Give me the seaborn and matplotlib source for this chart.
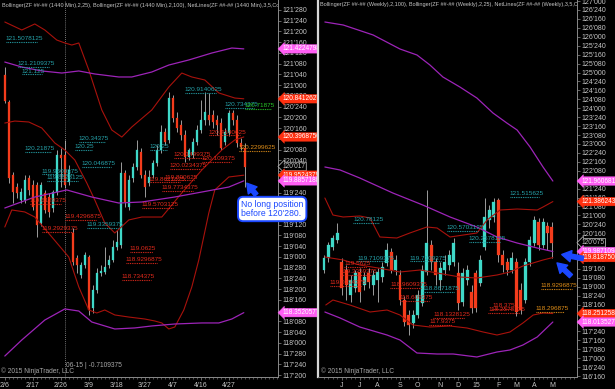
import numpy as np
import pandas as pd
import matplotlib
matplotlib.use("Agg")
import matplotlib.pyplot as plt
from matplotlib.patches import FancyArrowPatch
from matplotlib.ticker import FixedLocator, FuncFormatter
import seaborn as sns

# ---------------- data: daily (1440 Min) ----------------
daily_tick_pos = [0, 7, 14, 21, 28, 35, 42, 49, 56]
daily_tick_labels = ["2/6", "2/17", "2/26", "3/9", "3/18", "3/27", "4/7", "4/16", "4/27"]

d_open = [121.118, 120.804, 119.954, 119.814, 119.663, 119.663, 119.919, 119.838, 119.838, 119.396,
          119.745, 119.698, 119.570, 119.756, 120.187, 120.187, 119.873, 119.279, 118.988, 118.790,
          118.907, 118.999, 118.406, 118.616, 118.814, 118.826, 118.907, 118.965, 119.116, 119.140,
          119.977, 119.582, 119.919, 120.047, 120.222, 119.954, 119.861, 119.954, 120.094, 120.245,
          120.455, 120.362, 120.850, 120.618, 120.536, 120.420, 120.164, 120.187, 120.338, 120.478,
          120.594, 120.653, 120.653, 120.594, 120.559, 120.338, 120.443, 120.676, 120.594, 120.327,
          120.268]
d_high = [121.211, 120.827, 119.989, 119.861, 119.803, 119.954, 119.954, 119.896, 119.873, 119.873,
          119.780, 119.745, 119.780, 120.245, 120.268, 120.362, 120.071, 119.337, 119.023, 118.941,
          119.058, 119.023, 118.674, 118.872, 118.907, 119.116, 119.023, 119.198, 119.314, 120.105,
          120.012, 119.954, 120.094, 120.362, 120.268, 120.012, 120.012, 120.129, 120.303, 120.536,
          120.501, 120.920, 120.885, 120.687, 120.594, 120.478, 120.268, 120.385, 120.536, 120.827,
          120.920, 120.909, 120.711, 120.653, 120.618, 120.501, 120.711, 120.711, 120.653, 120.385,
          120.327]
d_low = [120.792, 119.861, 119.628, 119.686, 119.628, 119.628, 119.721, 119.547, 119.233, 119.361,
         119.512, 119.465, 119.524, 119.721, 119.814, 119.803, 119.838, 118.907, 118.814, 118.755,
         118.872, 118.325, 118.348, 118.581, 118.779, 118.802, 118.872, 118.941, 119.081, 119.105,
         119.582, 119.547, 119.873, 120.012, 119.919, 119.698, 119.826, 119.919, 120.059, 120.210,
         120.303, 120.327, 120.571, 120.455, 120.362, 120.105, 120.129, 120.152, 120.303, 120.443,
         120.536, 120.536, 120.501, 120.420, 120.245, 120.303, 120.408, 120.536, 120.280, 120.245,
         119.814]
d_close = [120.815, 119.919, 119.756, 119.745, 119.756, 119.896, 119.780, 119.582, 119.372, 119.838,
           119.547, 119.524, 119.756, 120.187, 120.152, 119.838, 120.012, 118.941, 118.907, 118.907,
           119.023, 118.383, 118.616, 118.814, 118.837, 118.883, 118.965, 119.116, 119.174, 119.977,
           119.640, 119.896, 120.047, 120.245, 119.954, 119.814, 119.931, 120.094, 120.245, 120.455,
           120.338, 120.850, 120.618, 120.501, 120.420, 120.164, 120.245, 120.338, 120.478, 120.594,
           120.687, 120.594, 120.571, 120.536, 120.268, 120.455, 120.676, 120.594, 120.327, 120.280,
           120.053]

# Bollinger (2,25) – daily
d_bb25_up_x = [0, 4.25, 7.5, 10, 13, 15, 16.75, 18.5, 21, 24.25, 26.75, 29.25, 31.75, 36.75, 41, 44.25, 46.75, 50, 53.5, 57.5, 59.75]
d_bb25_up = [121.735, 121.642, 121.712, 121.642, 121.525, 121.491, 121.467, 121.491, 121.176, 120.711, 120.478,
             120.396, 120.513, 120.711, 120.978, 121.141, 121.095, 121.060, 120.909, 120.850, 120.841]
d_bb25_mid_x = [0, 2.5, 6, 9.25, 12.5, 15, 17.5, 20.5, 22.5, 25, 27.5, 31, 34.25, 39.25, 44.25, 49.25, 54.25, 57.5, 59.75]
d_bb25_mid = [120.559, 120.582, 120.571, 120.501, 120.327, 120.245, 120.129, 119.861, 119.663, 119.396, 119.279,
              119.431, 119.465, 119.465, 119.745, 120.012, 120.245, 120.362, 120.397]
d_bb25_lo_x = [0, 1.75, 5, 7.5, 11.75, 16, 18.5, 21, 23, 25, 27.5, 31, 35, 37.5, 39.25, 41, 42.5, 44.75, 46.75,
               48.5, 51, 52.5, 56, 59.75]
d_bb25_lo = [119.349, 119.547, 119.524, 119.465, 119.233, 118.999, 118.651, 118.383, 118.348, 118.383, 118.325,
             118.301, 118.278, 118.255, 118.232, 118.162, 118.185, 118.383, 118.651, 118.965, 119.512, 119.780,
             119.931, 119.952]
# Bollinger (2,100) – daily
d_bb100_up_x = [0, 4.25, 9.25, 14.25, 18.5, 22.5, 28.5, 31.75, 36.75, 41, 46, 51.75, 56.75, 59.75]
d_bb100_up = [121.269, 121.211, 121.165, 121.141, 121.165, 121.130, 121.095, 121.095, 121.153, 121.234, 121.293,
              121.374, 121.432, 121.422]
d_bb100_mid_x = [0, 7.5, 15.5, 21.75, 28.5, 34.25, 42.5, 49.25, 56, 59.75]
d_bb100_mid = [119.570, 119.698, 119.780, 119.698, 119.628, 119.640, 119.698, 119.756, 119.814, 119.886]
d_bb100_lo_x = [0, 4.25, 10, 15, 18.5, 21.75, 27.5, 32.5, 36.75, 42.5, 49.25, 53.5, 56.75, 59.75]
d_bb100_lo = [117.847, 118.034, 118.266, 118.395, 118.371, 118.243, 118.162, 118.174, 118.197, 118.220, 118.232,
              118.232, 118.278, 118.352]

# NetLines labels – daily
d_net_val = [121.5078125, 121.2109375, 121.125, 120.9140625, 120.734375, 120.71875, 120.34375, 120.25,
             120.21875, 120.046875, 120.25, 119.9609375, 119.8828125, 120.4140625, 120.2299625, 120.1499375,
             120.0234375, 120.109375, 119.890625, 119.8671875, 119.7734375, 119.5703125, 119.6129375,
             119.4296875, 119.3359375, 119.2929375, 119.0625, 118.9296875, 118.734375]
d_net_x = [0.25, 3.25, 4.25, 45, 55, 60, 18.5, 17.5, 5, 19.25, 36.25, 9.25, 10.5, 51, 58.5, 42.25, 41.25,
           49.25, 40, 36, 39.25, 34.25, 6.25, 15, 20.5, 9.25, 31.25, 30.25, 29.25]
d_net_kind = ["c", "c", "c", "c", "c", "g", "c", "c", "c", "c", "c", "c", "c", "r", "o", "r", "r", "r", "r",
              "r", "r", "r", "r", "r", "c", "r", "r", "r", "r"]

# price markers – daily
d_tag_val = [121.4224798, 120.8412627, 120.3968750, 119.9524379, 119.8857188, 118.3520577]
d_tag_kind = ["m", "r", "r", "r", "m", "m"]

# ---------------- data: weekly ----------------
weekly_tick_pos = [4, 8, 12, 17, 21, 26, 30, 34, 39, 43, 47, 51]
weekly_tick_labels = ["J", "J", "A", "S", "O", "N", "D", "15", "F", "M", "A", "M"]

w_open = [119.470, 119.806, 120.114, 120.310, 119.694, 119.470, 118.770, 118.966, 119.414, 119.050,
          119.386, 119.050, 119.190, 119.274, 119.666, 119.974, 119.470, 119.330, 118.630, 118.210,
          117.986, 118.210, 118.546, 119.414, 120.170, 119.694, 119.190, 119.470, 119.610, 119.694,
          119.386, 118.574, 119.190, 118.854, 119.386, 119.106, 120.114, 120.870, 120.954, 121.430,
          119.890, 119.694, 119.470, 119.694, 118.910, 118.630, 119.694, 120.226, 120.814, 120.170,
          120.702, 120.674]
w_high = [119.890, 120.254, 120.450, 120.786, 119.806, 119.610, 119.330, 119.470, 119.526, 119.414,
          119.526, 119.470, 119.526, 119.694, 120.226, 120.086, 119.890, 119.470, 118.742, 118.350,
          118.350, 118.910, 119.610, 121.710, 120.310, 119.806, 119.694, 119.890, 120.030, 120.366,
          119.694, 119.526, 119.610, 119.050, 119.470, 119.890, 121.486, 121.290, 121.486, 121.486,
          120.030, 119.806, 119.974, 119.806, 119.106, 119.806, 120.422, 120.982, 120.926, 120.926,
          120.814, 120.814]
w_low = [119.386, 119.694, 120.030, 120.226, 118.770, 118.630, 118.574, 118.854, 118.574, 118.910,
         118.966, 118.770, 118.574, 119.134, 119.582, 119.386, 119.330, 118.490, 117.902, 117.650,
         117.846, 118.126, 118.462, 119.330, 119.470, 119.050, 118.910, 119.330, 119.470, 119.582,
         118.350, 118.462, 119.050, 118.266, 118.294, 119.022, 120.030, 120.646, 120.814, 119.694,
         119.414, 119.330, 119.386, 118.182, 118.238, 118.546, 119.582, 120.142, 120.030, 120.086,
         120.030, 119.806]
w_close = [119.806, 120.170, 120.366, 120.506, 118.966, 119.050, 119.190, 119.386, 118.854, 119.274,
           119.134, 119.330, 119.414, 119.554, 120.030, 119.470, 119.750, 118.630, 118.014, 117.930,
           118.210, 118.770, 119.470, 120.226, 119.694, 119.330, 119.526, 119.694, 119.890, 120.226,
           118.546, 119.386, 119.470, 118.406, 118.406, 119.750, 120.954, 121.150, 121.374, 119.890,
           119.610, 119.470, 119.806, 118.294, 118.350, 119.694, 120.310, 120.870, 120.170, 120.814,
           120.506, 120.234]

# Bollinger (2,100) – weekly
w_bb100_up_x = [0.2, 4.3, 11, 17, 20.8, 23.7, 26.6, 30.4, 34.2, 37.8, 40.9, 43.2, 46.1, 49, 51.2]
w_bb100_up = [126.414, 126.33, 126.05, 125.658, 125.49, 125.21, 124.874, 124.594, 124.286, 123.866, 123.586,
              123.39, 122.914, 122.354, 121.961]
w_bb100_mid_x = [0.2, 3.6, 8, 15.4, 22.1, 28.2, 34.2, 38.7, 43.2, 47.7, 51.2]
w_bb100_mid = [122.354, 122.27, 122.046, 121.626, 121.29, 120.954, 120.674, 120.394, 120.226, 120.086, 119.987]
w_bb100_lo_x = [0.2, 3.6, 8, 14.1, 17, 20.8, 25.3, 28.9, 34.2, 38.7, 41.6, 44.5, 47.7, 51.2]
w_bb100_lo = [118.294, 118.126, 117.874, 117.65, 117.51, 117.146, 117.118, 117.118, 117.034, 117.174, 117.23,
              117.37, 117.594, 118.014]
# Bollinger (2,25) – weekly
w_bb25_up_x = [0.2, 2, 4.3, 8, 10.3, 12.5, 16.3, 19.2, 23, 25.3, 28.2, 34.2, 36.5, 39.4, 43.2, 47.7, 49, 51.2]
w_bb25_up = [121.486, 121.01, 120.954, 120.982, 120.926, 120.394, 120.366, 120.506, 120.674, 120.646, 120.394,
             120.506, 120.87, 121.15, 121.178, 121.15, 121.234, 121.386]
w_bb25_mid_x = [0.2, 4.3, 8, 12.1, 17, 21.5, 26.6, 30.4, 34.2, 38.7, 41.6, 44.5, 49, 51.2]
w_bb25_mid = [119.834, 119.75, 119.61, 119.526, 119.414, 119.47, 119.358, 119.274, 119.246, 119.33, 119.414,
              119.582, 119.75, 119.819]
w_bb25_lo_x = [0.4, 2, 5.8, 10.3, 14.1, 17, 19.9, 23.7, 28.2, 32, 35.6, 38.7, 41.6, 44.5, 46.8, 49, 51.2]
w_bb25_lo = [118.49, 118.63, 118.49, 118.294, 118.35, 118.21, 117.93, 117.874, 117.902, 117.846, 117.734,
             117.65, 117.734, 117.986, 118.21, 118.266, 118.251]

# NetLines labels – weekly
w_net_val = [120.78125, 120.5703125, 120.2578125, 121.515625, 119.7109375, 119.7109375, 118.8671875, 119.5625,
             119.3359375, 119.0234375, 118.9609375, 118.609375, 118.1328125, 117.9375, 118.375, 118.2578125,
             118.9296875, 118.296875]
w_net_x = [6.5, 27.5, 32.4, 41.6, 7.4, 19.2, 22.1, 4.5, 3.8, 1.3, 14.8, 17, 24.4, 23.5, 37.6, 36.7, 48.5, 47.4]
w_net_kind = ["c", "c", "c", "c", "c", "c", "c", "r", "r", "r", "r", "r", "r", "r", "r", "r", "o", "o"]

# price markers – weekly
w_tag_val = [121.9606815, 121.3862439, 119.9871094, 119.8187500, 118.2512580, 118.0135273]
w_tag_kind = ["m", "r", "m", "r", "r", "m"]

title_daily = ("Bollinger(ZF ##-## (1440 Min),2,25), Bollinger(ZF ##-## (1440 Min),2,100), "
               "NetLines(ZF ##-## (1440 Min),3,5,Color)")
title_weekly = ("Bollinger(ZF ##-## (Weekly),2,100), Bollinger(ZF ##-## (Weekly),2,25), "
                "NetLines(ZF ##-## (Weekly),3,5,Color)")
note_text = "No long position\nbefore 120'280."
cursor_text = "06-15 | -0.7109375"
copyright_text = "\u00a9 2015 NinjaTrader, LLC"

# ---------------- style ----------------
CYAN = "#3fd8c8"
RED = "#f43c1c"
WICK = "#b5b5b5"
BB_RED = "#a8120c"
BB_PURPLE = "#9d24b8"
LAB = {"c": "#26a2aa", "r": "#e42a1c", "o": "#e08e18", "g": "#27c627"}
TAG = {"m": "#ff5ef4", "r": "#ff3010"}
AXC = "#8a8a8a"
TXT = "#c4c4c4"
BLUE = "#1b48ff"

sns.set_theme(style="dark", rc={"axes.facecolor": "black", "figure.facecolor": "black",
                                "savefig.facecolor": "black", "axes.grid": False})
plt.rcParams["font.family"] = ["Liberation Sans Narrow", "Liberation Sans", "DejaVu Sans"]
NARROW = ["Liberation Sans Narrow", "Liberation Sans", "DejaVu Sans"]

W, H = 615, 389
fig = plt.figure(figsize=(W / 100, H / 100), dpi=100)
axL = fig.add_axes([0, 12 / H, 278 / W, 377 / H])
axR = fig.add_axes([318 / W, 12 / H, 259 / W, 377 / H])


def fmt32(v, pos=None):
    whole = int(np.floor(v + 1e-9))
    tenths = int(round((v - whole) * 320))
    if tenths >= 320:
        whole += 1
        tenths -= 320
    return f"{whole}'{tenths:03d}"


def candles(ax, o, h, l, c, width):
    df = pd.DataFrame({"o": o, "h": h, "l": l, "c": c})
    df["x"] = np.arange(len(df))
    up = df["c"] >= df["o"]
    cols = np.where(up, CYAN, RED)
    ax.vlines(df["x"], df["l"], df["h"], color=WICK, lw=0.6, zorder=3)
    ax.bar(df["x"], (df["c"] - df["o"]).abs() + 0.004, bottom=np.minimum(df["o"], df["c"]) - 0.002,
           width=width, color=cols, edgecolor=cols, lw=0.2, zorder=4)


def band(ax, xs, ys, color, lw):
    sns.lineplot(x=xs, y=ys, ax=ax, color=color, lw=lw, sort=False, estimator=None, zorder=5, legend=False)


def netlabels(ax, xs, vals, kinds, unit):
    for x, v, k in zip(xs, vals, kinds):
        txt = str(v)
        col = LAB[k]
        w = len(txt) * unit
        ax.plot([x, x + w], [v, v], ls=(0, (0.8, 0.8)), lw=0.8, color=col, zorder=6)
        ax.annotate(txt, (x, v), xytext=(0, 0.6), textcoords="offset points", color=col,
                    fontsize=4.6, family=NARROW, va="bottom", ha="left", zorder=7)


def tags(ax, vals, kinds, last):
    for v, k in zip(vals, kinds):
        ax.annotate(f"{v:.7f}", xy=(1, v), xycoords=("axes fraction", "data"), xytext=(3.2, 0),
                    textcoords="offset points", va="center", ha="left", fontsize=4.7, family=NARROW,
                    color="white", zorder=9, annotation_clip=False,
                    bbox=dict(boxstyle="larrow,pad=0.12", fc=TAG[k], ec=TAG[k], lw=0.3))
    ax.annotate(fmt32(last), xy=(1, last), xycoords=("axes fraction", "data"), xytext=(3.2, 0),
                textcoords="offset points", va="center", ha="left", fontsize=4.8, family=NARROW,
                color=TXT, zorder=8, annotation_clip=False,
                bbox=dict(boxstyle="larrow,pad=0.12", fc="black", ec="#cfcfcf", lw=0.5))


def style_axes(ax, ylim, xlim, ystep, ticks, labels, left_spine=None):
    ax.set_facecolor("black")
    ax.set_xlim(*xlim)
    ax.set_ylim(*ylim)
    yt = np.arange(np.ceil(ylim[0] / ystep) * ystep, ylim[1], ystep)
    ax.yaxis.set_major_locator(FixedLocator(yt))
    ax.yaxis.set_major_formatter(FuncFormatter(fmt32))
    ax.yaxis.tick_right()
    ax.set_xticks(ticks)
    ax.set_xticklabels(labels)
    ax.xaxis.set_minor_locator(FixedLocator(np.arange(0, int(xlim[1]) + 1)))
    ax.tick_params(axis="y", which="both", left=False, right=True, labelleft=False, labelright=True,
                   length=2.2, width=0.5, color=AXC, labelsize=5, labelcolor=TXT, pad=1.2)
    ax.tick_params(axis="x", which="major", bottom=True, length=2.5, width=0.5, color=AXC,
                   labelsize=5, labelcolor=TXT, pad=1.2)
    ax.tick_params(axis="x", which="minor", bottom=True, length=1.6, width=0.4, color=AXC)
    for s in ["top", "left"]:
        ax.spines[s].set_visible(False)
    for s in ["right", "bottom"]:
        ax.spines[s].set_visible(True)
        ax.spines[s].set_color(AXC)
        ax.spines[s].set_linewidth(0.7)
    if left_spine:
        ax.spines["left"].set_visible(True)
        ax.spines["left"].set_color(left_spine)
        ax.spines["left"].set_linewidth(1.6)
    ax.set_xlabel("")
    ax.set_ylabel("")
    ax.grid(False)


# ---------------- left: daily ----------------
candles(axL, d_open, d_high, d_low, d_close, 0.62)
band(axL, d_bb25_up_x, d_bb25_up, BB_RED, 0.8)
band(axL, d_bb25_mid_x, d_bb25_mid, BB_RED, 0.8)
band(axL, d_bb25_lo_x, d_bb25_lo, BB_RED, 0.8)
band(axL, d_bb100_up_x, d_bb100_up, BB_PURPLE, 0.9)
band(axL, d_bb100_mid_x, d_bb100_mid, BB_PURPLE, 0.9)
band(axL, d_bb100_lo_x, d_bb100_lo, BB_PURPLE, 0.9)
axL.axvline(15, color="#9a9a9a", ls=(0, (1, 1.5)), lw=0.6, zorder=2)
netlabels(axL, d_net_x, d_net_val, d_net_kind, 0.72)
style_axes(axL, (117.603, 121.991), (-1.2, 68.3), 0.125, daily_tick_pos, daily_tick_labels)
tags(axL, d_tag_val, d_tag_kind, d_close[-1])
axL.text(0.006, 0.993, title_daily, transform=axL.transAxes, va="top", ha="left", fontsize=3.95,
         color=TXT, clip_on=True, family=NARROW)
axL.text(0.003, 0.004, copyright_text, transform=axL.transAxes, va="bottom", ha="left", fontsize=4.8,
         color="#a8a8a8", family=NARROW)
axL.text(15.4, 0.03, cursor_text, transform=axL.get_xaxis_transform(), va="center", ha="left",
         fontsize=4.8, color="#a8a8a8", family=NARROW)

# ---------------- right: weekly ----------------
candles(axR, w_open, w_high, w_low, w_close, 0.66)
band(axR, w_bb100_up_x, w_bb100_up, BB_PURPLE, 0.9)
band(axR, w_bb100_mid_x, w_bb100_mid, BB_PURPLE, 0.9)
band(axR, w_bb100_lo_x, w_bb100_lo, BB_PURPLE, 0.9)
band(axR, w_bb25_up_x, w_bb25_up, BB_RED, 0.8)
band(axR, w_bb25_mid_x, w_bb25_mid, BB_RED, 0.8)
band(axR, w_bb25_lo_x, w_bb25_lo, BB_RED, 0.8)
netlabels(axR, w_net_x, w_net_val, w_net_kind, 0.64)
style_axes(axR, (116.474, 127.03), (-1.34, 56.6), 0.25, weekly_tick_pos, weekly_tick_labels,
           left_spine="#d6d6d6")
tags(axR, w_tag_val, w_tag_kind, w_close[-1])
axR.text(0.008, 0.995, title_weekly, transform=axR.transAxes, va="top", ha="left", fontsize=3.95,
         color=TXT, clip_on=True, family=NARROW)
axR.text(0.012, 0.004, copyright_text, transform=axR.transAxes, va="bottom", ha="left", fontsize=4.8,
         color="#a8a8a8", family=NARROW)

# ---------------- annotation ----------------
fig.text(241 / W, 1 - 209 / H, note_text, ha="left", va="center", fontsize=6.2, color=BLUE,
         family=["Liberation Sans", "DejaVu Sans"], linespacing=1.05, zorder=10,
         bbox=dict(boxstyle="round,pad=0.35,rounding_size=0.6", fc="white", ec=BLUE, lw=1.4))


def arrow(p0, p1):
    a = FancyArrowPatch((p0[0] / W, 1 - p0[1] / H), (p1[0] / W, 1 - p1[1] / H), transform=fig.transFigure,
                        arrowstyle="simple,head_width=0.9,head_length=0.75,tail_width=0.35",
                        mutation_scale=9, color=BLUE, zorder=11)
    fig.add_artist(a)


arrow((258, 197), (245, 181))
arrow((586, 259), (559, 254))
arrow((573, 278), (555, 261))

fig.savefig("out.png", dpi=100, facecolor="black")
